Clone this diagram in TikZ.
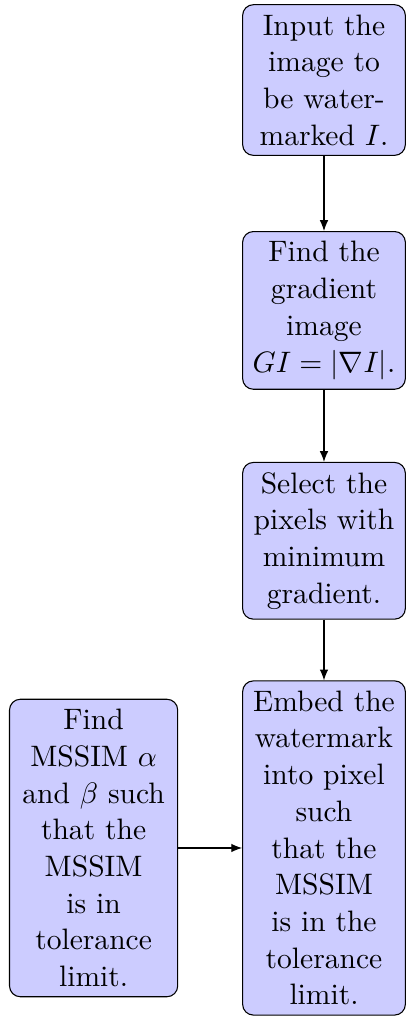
\documentclass[tikz,border=0pt]{standalone}
\usepackage{amsmath,amssymb}
\usepackage{xcolor}
\usepackage{tikz}
\usetikzlibrary{arrows.meta,positioning}
\tikzset{
  stepbox/.style={rectangle, rounded corners=4pt, draw=black, fill=blue!20,
              text width=53pt, inner sep=3.65pt, align=center},
  arr/.style={-{Latex[length=4pt,width=3.2pt]}, thin},
}

\begin{document}
\begin{tikzpicture}[every node/.style={font=\fontsize{10.95pt}{13.6pt}\selectfont}]
    \useasboundingbox (-4.219,1.042) rectangle (1.081,-12.227);

    \node[stepbox] (input)  at (0,0)  {Input the\\ image to\\ be water-\\ marked $I$.};
    \node[stepbox] (grad)   at (0,-3) {Find the\\ gradient\\ image\\ $GI = |\nabla I|$.};
    \node[stepbox] (select) at (0,-6) {Select the\\ pixels with\\ minimum\\ gradient.};
    \node[stepbox] (embed)  at (0,-10)
      {Embed the\\ watermark\\ into pixel\\ such\\ that the\\ MSSIM\\ is in the\\ tolerance\\ limit.};
    \node[stepbox, text width=55pt] (mssim) at (-3,-10)
      {Find\\ MSSIM $\alpha$\\ and $\beta$ such\\ that the\\ MSSIM\\ is in\\ tolerance\\ limit.};

    \draw[arr] (input) -- (grad);
    \draw[arr] (grad) -- (select);
    \draw[arr] (select) -- (embed);
    \draw[arr] (mssim) -- (embed);
  \end{tikzpicture}
\end{document}
